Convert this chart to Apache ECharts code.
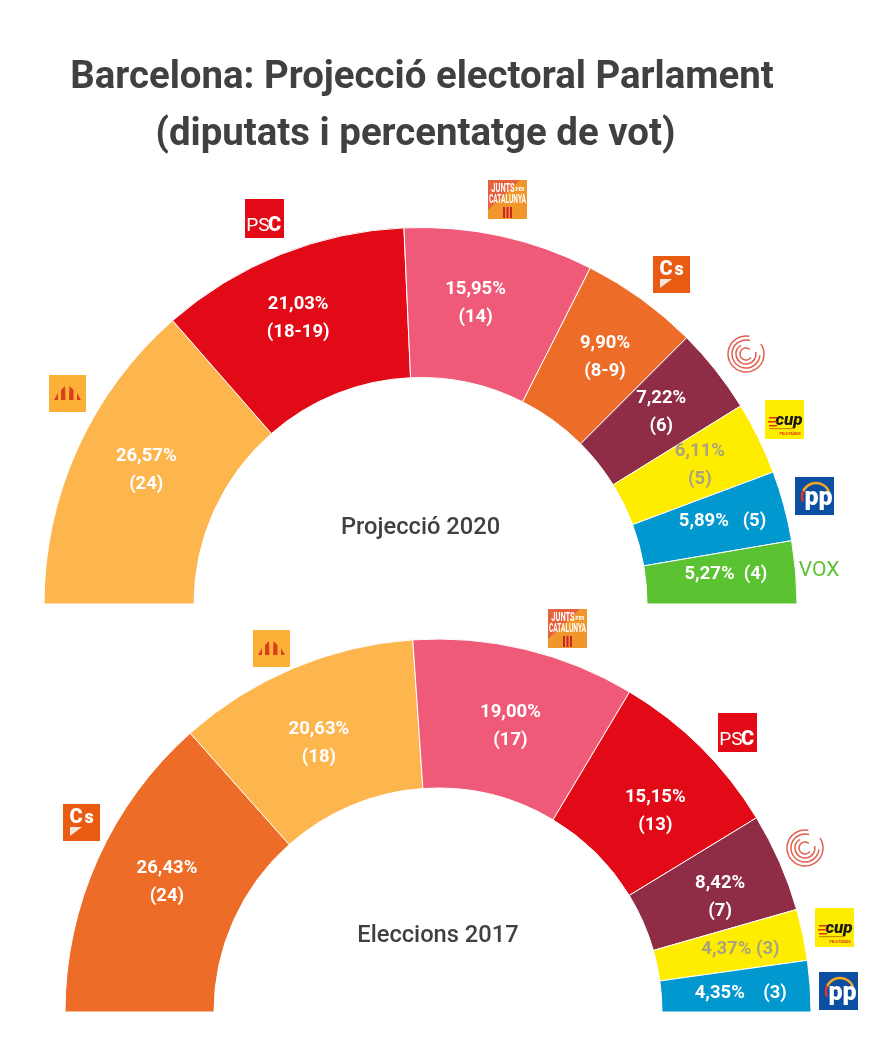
<!DOCTYPE html>
<html>
<head>
<meta charset="utf-8">
<style>html,body{margin:0;padding:0;background:#fff}#main{width:878px;height:1038px}</style>
<script src="https://cdn.jsdelivr.net/npm/echarts@6/dist/echarts.min.js"></script>
</head>
<body>
<div id="main"></div>
<script>
// dades
var parties2020 = ['ERC', 'PSC', 'JxCat', 'Cs', 'Comuns', 'CUP', 'PP', 'Vox'];
var votes2020 = [26.57, 21.03, 15.95, 9.90, 7.22, 6.11, 5.89, 5.27];
var seats2020 = ['24', '18-19', '14', '8-9', '6', '5', '5', '4'];

var parties2017 = ['Cs', 'ERC', 'JxCat', 'PSC', 'Comuns', 'CUP', 'PP'];
var votes2017 = [26.43, 20.63, 19.00, 15.15, 8.42, 4.37, 4.35];
var seats2017 = ['24', '18', '17', '13', '7', '3', '3'];

var colors = {
    ERC: '#FDB64E', PSC: '#E10A16', JxCat: '#EF5A78', Cs: '#EC6C28',
    Comuns: '#8F2C46', CUP: '#FFED00', PP: '#0098CE', Vox: '#5BC232'
};
var FONT = 'Roboto';

function pct(v) { return v.toFixed(2).replace('.', ',') + '%'; }

// separacio de les etiquetes respecte al punt mig de la porcio
var offsets2020 = { ERC: [3, -8], PSC: [-9, -2.5], JxCat: [-9, -2.5], Cs: [6, 0], Comuns: [2, -3], CUP: [6, -5], PP: [8, -3], Vox: [2, -4] };
var offsets2017 = { Cs: [4, -6], ERC: [-2.5, 9], JxCat: [2, 8], PSC: [5, 13], Comuns: [6, 6], CUP: [7.5, 0], PP: [2, 2] };

function hemi(parties, votes, seats, offsets, center, r0, r1, gaps) {
    var data = parties.map(function(p, i) {
        var txt = pct(votes[i]) + (gaps[p] || '\n') + '(' + seats[i] + ')';
        return {
            name: p,
            value: votes[i],
            itemStyle: { color: colors[p] },
            label: {
                formatter: txt,
                offset: offsets[p],
                color: p === 'CUP' ? '#A9A47C' : '#fff'
            }
        };
    });
    return {
        type: 'pie',
        silent: true,
        animation: false,
        center: center,
        radius: [r0, r1],
        startAngle: 180,
        endAngle: 360,
        clockwise: true,
        avoidLabelOverlap: false,
        itemStyle: { borderColor: '#fff', borderWidth: 1 },
        label: {
            show: true,
            position: 'inside',
            fontFamily: FONT,
            fontWeight: 'bold',
            fontSize: 18.5,
            lineHeight: 28,
            align: 'center'
        },
        labelLayout: { hideOverlap: false },
        labelLine: { show: false },
        data: data
    };
}

// logos
function box(x, y, w, h, c) {
    return { type: 'rect', shape: { x: x, y: y, width: w, height: h }, style: { fill: c } };
}
function poly(x, y, pts, c) {
    return { type: 'polygon', shape: { points: pts.map(function(p) { return [x + p[0], y + p[1]]; }) }, style: { fill: c } };
}
function txt(x, y, s, size, c, extra, sx) {
    return {
        type: 'text', x: x, y: y, scaleX: sx || 1,
        style: Object.assign({ text: s, fontFamily: FONT, fontSize: size, fill: c, fontWeight: 'bold', align: 'center', verticalAlign: 'middle' }, extra || {})
    };
}
function logoPSC(x, y) {
    return [box(x, y, 39, 39, '#E10A16'),
        txt(x + 13, y + 27, 'PS', 19, '#fff', { fontWeight: 'normal' }),
        txt(x + 29.5, y + 27, 'C', 20, '#fff', { fontWeight: 900 })];
}
function logoJunts(x, y) {
    return [box(x, y, 39, 39, '#F0962A'),
        poly(x, y, [[0, 0], [32, 0], [0, 30]], '#E8613F'),
        txt(x + 15, y + 9, 'JUNTS', 12, '#fff', {}, 0.62),
        txt(x + 32, y + 9, 'PER', 6, '#fff', {}, 0.8),
        txt(x + 19.5, y + 19.5, 'CATALUNYA', 12, '#fff', {}, 0.55),
        box(x + 15, y + 27, 2, 11, '#C8242C'), box(x + 18.5, y + 27, 2, 11, '#C8242C'), box(x + 22, y + 27, 2, 11, '#C8242C')];
}
function logoCs(x, y) {
    return [box(x, y, 37, 37, '#EA5B12'),
        txt(x + 13, y + 13.5, 'C', 20, '#fff', { fontWeight: 900 }),
        txt(x + 26, y + 14.5, 's', 18, '#fff', { fontWeight: 900 }),
        poly(x, y, [[7, 23], [19, 23], [7, 32]], '#F6E6DC')];
}
function logoERC(x, y) {
    var red = '#D8401A';
    return [box(x, y, 37, 37, '#FDB038'),
        poly(x, y, [[5, 25], [9, 18], [9, 25]], red),
        poly(x, y, [[12, 25], [12, 15], [16, 11], [16.5, 25]], red),
        poly(x, y, [[20, 25], [20.5, 11], [24.5, 15], [24.5, 25]], red),
        poly(x, y, [[28, 25], [28, 18], [32, 25]], red)];
}
function logoComuns(cx, cy) {
    return [[18, -0.6, 4.9], [14, 0.1, 5.0], [10, -0.2, 4.2], [6, 0.6, 5.4]].map(function(a) {
        return {
            type: 'arc',
            shape: { cx: cx, cy: cy, r: a[0], startAngle: a[1], endAngle: a[2], clockwise: true },
            style: { fill: null, stroke: '#E2604F', lineWidth: 1.5 }
        };
    });
}
function logoCUP(x, y) {
    return [box(x, y, 39, 39, '#FFED00'),
        txt(x + 24, y + 21, 'cup', 17, '#1a1a1a', { fontWeight: 900, fontStyle: 'italic' }),
        box(x + 4, y + 17, 8, 1.5, '#D8321A'), box(x + 3, y + 21, 9, 1.5, '#D8321A'), box(x + 4, y + 25, 8, 1.5, '#D8321A'),
        box(x + 4, y + 28, 26, 1.2, '#C89000'),
        txt(x + 25, y + 34, 'PELS PAÏSOS', 3.5, '#D8321A')];
}
function logoPP(x, y) {
    return [box(x, y, 39, 38, '#0B4EA2'),
        { type: 'arc', shape: { cx: x + 21, cy: y + 20, r: 14, startAngle: 3.5, endAngle: 5.9, clockwise: true }, style: { fill: null, stroke: '#F4A81D', lineWidth: 2.5 } },
        { type: 'arc', shape: { cx: x + 21, cy: y + 20, r: 14, startAngle: 2.8, endAngle: 3.6, clockwise: true }, style: { fill: null, stroke: '#E5352A', lineWidth: 2.5 } },
        txt(x + 23.5, y + 22, 'pp', 25, '#fff', { fontWeight: 900 })];
}
function logoVox(x, y) {
    return [txt(x, y, 'VOX', 21, '#5BC232', { fontWeight: 'normal' })];
}

var logos = [].concat(
    logoERC(49, 375), logoPSC(245, 199), logoJunts(488, 180), logoCs(653, 256),
    logoComuns(746, 354), logoCUP(765, 400), logoPP(795, 477), logoVox(819, 571),
    logoCs(63, 804), logoERC(253, 630), logoJunts(548, 609), logoPSC(718, 713),
    logoComuns(805, 848), logoCUP(815, 908), logoPP(819, 972)
);

var titleStyle = { fontFamily: FONT, fontWeight: 'bold', fontSize: 38.4, color: '#404040' };
var subStyle = { fontFamily: FONT, fontWeight: 500, fontSize: 23.7, color: '#404040' };

var chart = echarts.init(document.getElementById('main'), null, { renderer: 'canvas' });
chart.setOption({
    backgroundColor: '#fff',
    title: [
        { text: 'Barcelona: Projecció electoral Parlament', left: 422, top: 59, padding: 0, textAlign: 'center', textStyle: titleStyle },
        { text: '(diputats i percentatge de vot)', left: 415.5, top: 116, padding: 0, textAlign: 'center', textStyle: titleStyle },
        { text: 'Projecció 2020', left: 420.5, top: 516, padding: 0, textAlign: 'center', textStyle: subStyle },
        { text: 'Eleccions 2017', left: 438, top: 924, padding: 0, textAlign: 'center', textStyle: subStyle }
    ],
    series: [
        hemi(parties2020, votes2020, seats2020, offsets2020, [420.5, 604], 226.5, 376.5, { PP: '   ', Vox: '  ' }),
        hemi(parties2017, votes2017, seats2017, offsets2017, [438, 1012], 224, 373, { PP: '    ', CUP: ' ' })
    ],
    graphic: { elements: logos }
});
</script>
</body>
</html>
